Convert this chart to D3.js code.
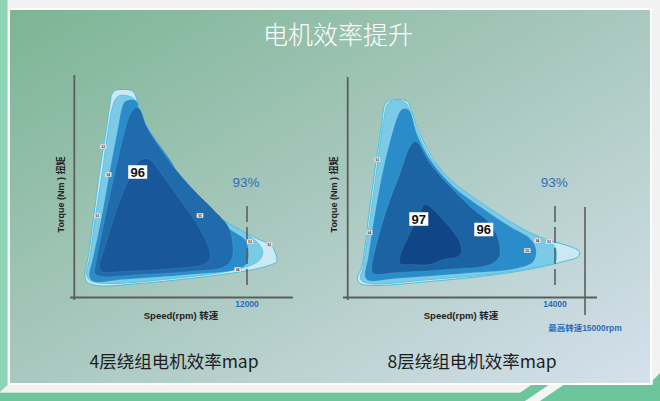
<!DOCTYPE html>
<html><head><meta charset="utf-8">
<script src="https://cdn.jsdelivr.net/npm/d3@7"></script>
<style>html,body{margin:0;padding:0;background:#f2f2f2;}svg{display:block;}</style>
</head><body>
<script>
// ---------- DATA ----------
const titleText = "电机效率提升";
const subtitles = ["4层绕组电机效率map", "8层绕组电机效率map"];
const xLabel = "Speed(rpm) 转速";
const yLabel = "Torque (Nm ) 扭矩";
const leftTick = [12000];
const rightTick = [14000];
const rightMax = 15000;
const rightMaxLabel = "最高转速15000rpm";
const pctLabel = "93%";

// left map (4-layer winding) contours: [speed rpm, torque]
const left_L1 = [[2620,203],[2840,207],[3420,208],[4000,207],[4230,203],[4580,188],[5040,171],[5740,153],[6890,128],[8280,101],[9900,81],[11510,68],[12670,59],[13600,53],[13940,46],[14060,36],[13710,33],[12440,28],[9200,21],[4580,14],[1570,12],[880,16],[760,23],[990,41],[1340,78],[1800,128],[2270,171],[2500,194]];
const left_L2 = [[2910,199],[3190,202],[3880,201],[4350,196],[4810,178],[5740,156],[7350,121],[9200,88],[11050,71],[12210,61],[12780,54],[13090,46],[12900,38],[12210,32],[10590,26],[6890,19],[2270,14],[1110,17],[880,23],[1110,41],[1460,78],[1920,121],[2380,168],[2680,191]];
const left_L3 = [[3540,196],[4000,198],[4350,196],[4580,184],[5500,161],[6660,138],[8050,104],[9660,81],[11050,66],[11860,58],[12090,48],[11980,34],[11290,28],[8050,23],[3420,18],[1340,16],[1060,21],[1340,41],[1920,81],[2500,128],[3070,171],[3310,189]];
const left_L4 = [[4350,190],[4580,188],[5040,171],[5740,154],[6890,131],[8280,108],[9660,88],[10700,71],[11010,54],[10940,39],[10470,31],[8050,26],[4580,23],[1920,21],[1460,24],[1570,38],[2030,71],[2730,118],[3420,161],[3880,183],[4110,188]];
const left_L5 = [[4930,139],[5270,138],[6190,121],[7350,98],[8510,74],[9320,51],[9430,39],[8970,33],[6890,29],[3420,26],[1920,26],[1760,31],[2150,51],[2960,88],[3880,121],[4460,136]];
const leftBig = [["96", 4420, 125.5]];
const leftSmall = [["92",2030,151],["94",2380,123],["93",1620,82],["95",8740,82],["93",12210,56],["92",13550,53],["94",11350,28]];

// right map (8-layer winding) contours
const right_L1 = [[2520,193],[2860,197],[3530,198],[4030,196],[4210,191],[4660,171],[5560,144],[6690,121],[8260,101],[10060,84],[11860,68],[13440,58],[14500,51],[14810,46],[14780,41],[14280,36],[13210,31],[10060,23],[5560,16],[1730,12],[830,14],[650,19],[950,31],[1390,78],[1840,128],[2300,174]];
const right_L2 = [[2740,194],[3310,197],[3870,195],[4090,191],[4550,171],[5560,141],[6910,118],[8710,98],[10740,78],[12770,61],[13850,53],[14030,48],[14010,36],[13210,32],[10060,24],[5560,18],[1510,14],[880,18],[1050,31],[1510,78],[1960,128],[2400,174]];
const right_L3 = [[3650,188],[3940,189],[4210,186],[4660,164],[5560,138],[7130,111],[8940,91],[10960,71],[12310,59],[12720,48],[12540,36],[11410,29],[7810,24],[3310,19],[1390,17],[1170,21],[1390,41],[1840,84],[2400,128],[3080,168],[3420,183]];
const right_L4 = [[4550,156],[4770,154],[5560,134],[6910,111],[8260,91],[9610,74],[10170,58],[10240,41],[9610,33],[6690,28],[3310,25],[1730,24],[1620,29],[1960,54],[2630,88],[3530,124],[4210,151]];
const right_L5 = [[5220,93],[5560,91],[6230,81],[7360,61],[7700,48],[7470,41],[6460,38],[5560,33],[4430,33],[3530,34],[3530,41],[4090,61],[4660,78],[5000,89]];
const rightBig = [["97", 4800, 78.5], ["96", 9190, 68]];
const rightSmall = [["93",2000,138],["94",1460,65],["94",12810,57],["93",13600,56],["95",12130,47]];

const pctPos = { left: [11930, 110.5], right: [13950, 110.5] };
const guideTorque = [91.5, 9.5];
const maxLineTorque = [90.5, -17.5];

const layerColorsLeft  = ["#cce9f3","#7bcae6","#2a8dca","#1f6bab","#185799"];
const layerColorsRight = ["#cce9f3","#7bcae6","#2a8dca","#1c63a4","#104587"];

// ---------- DRAW ----------
const W = 660, H = 401;
const svg = d3.select("body").append("svg").attr("width", W).attr("height", H);
const defs = svg.append("defs");
const grad = defs.append("linearGradient").attr("id","bg").attr("x1",0).attr("y1",0).attr("x2",1).attr("y2",1);
grad.append("stop").attr("offset","0%").attr("stop-color","#7cb594");
grad.append("stop").attr("offset","50%").attr("stop-color","#a9c8bf");
grad.append("stop").attr("offset","100%").attr("stop-color","#d5e1ec");

svg.append("rect").attr("width",W).attr("height",H).attr("fill","#f2f2f2");
// left green strip
svg.append("path").attr("d","M0,0 L7.5,0 L7.5,385 L0,392 Z").attr("fill","#8cd4b3");
// bottom green band
svg.append("rect").attr("x",0).attr("y",392.7).attr("width",W).attr("height",H-392.7).attr("fill","#6dc59c");
svg.append("path").attr("d","M520,401 L520,392.7 L532,384.5 L653,384.5 L653,380 L660,373 L660,401 Z").attr("fill","#6dc59c");
svg.append("path").attr("d","M525,401 L548.5,385 L563.5,385 L540,401 Z").attr("fill","#f4f6f5");

// panel
svg.append("rect").attr("x",9).attr("y",9).attr("width",642).attr("height",375)
  .attr("fill","url(#bg)").attr("stroke","#ffffff").attr("stroke-width",2);

svg.append("text").attr("x",338).attr("y",44).attr("text-anchor","middle")
  .attr("font-family","'Noto Sans CJK SC'").attr("font-weight",300).attr("font-size",25)
  .attr("fill","#ffffff").text(titleText);

const yScale = d3.scaleLinear().domain([0,220]).range([297.5,77.5]);
const xLeft = d3.scaleLinear().domain([0,12000]).range([74,247]);
const xRight = d3.scaleLinear().domain([0,14000,15000]).range([347.7,555,585]);

function drawMap(xs, layers, colors, big, small, tick, pct, axisX, axisYTop, xAxisRange, ylabX, xlabX) {
  const g = svg.append("g");
  const line = d3.line().x(d=>xs(d[0])).y(d=>yScale(d[1])).curve(d3.curveCatmullRomClosed.alpha(0.5));
  // axes
  g.append("line").attr("x1",axisX).attr("x2",axisX).attr("y1",axisYTop).attr("y2",yScale(0)+2.5)
    .attr("stroke","#5a5e5c").attr("stroke-width",1.8);
  g.append("line").attr("x1",xAxisRange[0]).attr("x2",xAxisRange[1]).attr("y1",yScale(0)).attr("y2",yScale(0))
    .attr("stroke","#5a5e5c").attr("stroke-width",1.8);
  layers.forEach((pts,i)=>{
    g.append("path").attr("d",line(pts)).attr("fill",colors[i])
      .attr("stroke", i===0 ? "#4cbfdc" : (i===1 ? "#5cc3e2" : "rgba(255,255,255,0.15)"))
      .attr("stroke-width", i<2 ? 1 : 0.6);
  });
  // dashed guide at tick speed
  g.append("line").attr("x1",xs(tick[0])).attr("x2",xs(tick[0]))
    .attr("y1",yScale(guideTorque[0])).attr("y2",yScale(guideTorque[1]))
    .attr("stroke","#55595a").attr("stroke-width",1.5).attr("stroke-dasharray","16,5");
  g.append("text").attr("x",xs(tick[0])).attr("y",yScale(0)+9.5).attr("text-anchor","middle")
    .attr("font-family","'Liberation Sans', Arial, sans-serif").attr("font-weight","bold").attr("font-size",8.5)
    .attr("fill","#2b6cb7").text(tick[0]);
  g.append("text").attr("x",xs(pct[0])).attr("y",yScale(pct[1])).attr("text-anchor","middle")
    .attr("font-family","'Liberation Sans', Arial, sans-serif").attr("font-size",13.5)
    .attr("fill","#2e6db8").text(pctLabel);
  // small labels
  small.forEach(s=>{
    const cx = xs(s[1]), cy = yScale(s[2]);
    g.append("rect").attr("x",cx-3.2).attr("y",cy-2.3).attr("width",6.4).attr("height",4.6)
      .attr("fill","#ffffff").attr("stroke","#8a9aa2").attr("stroke-width",0.3);
    g.append("text").attr("x",cx).attr("y",cy+1.3).attr("text-anchor","middle")
      .attr("font-family","'Liberation Sans', Arial, sans-serif").attr("font-weight","bold").attr("font-size",3.6)
      .attr("fill","#333").text(s[0]);
  });
  big.forEach((b,i)=>{
    const cx = xs(b[1]), cy = yScale(b[2]);
    const w = 19, h = 13.5;
    g.append("rect").attr("x",cx-w/2).attr("y",cy-h/2).attr("width",w).attr("height",h).attr("fill","#ffffff");
    g.append("text").attr("x",cx).attr("y",cy+4.6).attr("text-anchor","middle")
      .attr("font-family","'Liberation Sans', Arial, sans-serif").attr("font-weight","bold").attr("font-size",13)
      .attr("fill","#111").text(b[0]);
  });
  // axis titles
  g.append("text").attr("transform",`translate(${ylabX},${yScale(103)}) rotate(-90)`).attr("text-anchor","middle")
    .attr("font-family","'Liberation Sans','Noto Sans CJK SC', sans-serif").attr("font-weight","bold").attr("font-size",9)
    .attr("fill","#222").text(yLabel);
  g.append("text").attr("x",xlabX).attr("y",yScale(0)+21).attr("text-anchor","middle")
    .attr("font-family","'Liberation Sans','Noto Sans CJK SC', sans-serif").attr("font-weight","bold").attr("font-size",9.5)
    .attr("fill","#222").text(xLabel);
  return g;
}

drawMap(xLeft, [left_L1,left_L2,left_L3,left_L4,left_L5], layerColorsLeft, leftBig, leftSmall, leftTick,
  pctPos.left, xLeft(0)+0.3, 75, [70,293], 63.5, 181);
const gR = drawMap(xRight, [right_L1,right_L2,right_L3,right_L4,right_L5], layerColorsRight, rightBig, rightSmall, rightTick,
  pctPos.right, xRight(0), 77, [343,597], 336.5, 461);

// max speed line
gR.append("line").attr("x1",xRight(rightMax)).attr("x2",xRight(rightMax))
  .attr("y1",yScale(maxLineTorque[0])).attr("y2",yScale(maxLineTorque[1]))
  .attr("stroke","#5a5e5c").attr("stroke-width",1.6);
gR.append("text").attr("x",xRight(rightMax)).attr("y",yScale(0)+33).attr("text-anchor","middle")
  .attr("font-family","'Liberation Sans','Noto Sans CJK SC', sans-serif").attr("font-weight","bold").attr("font-size",8.5)
  .attr("fill","#2b6cb7").text(rightMaxLabel);

// subtitles
[[174, subtitles[0]],[472, subtitles[1]]].forEach(d=>{
  svg.append("text").attr("x",d[0]).attr("y",368).attr("text-anchor","middle")
    .attr("font-family","'Noto Sans CJK SC'").attr("font-size",17.5).attr("fill","#1e1e1e").text(d[1]);
});
</script>
</body></html>
